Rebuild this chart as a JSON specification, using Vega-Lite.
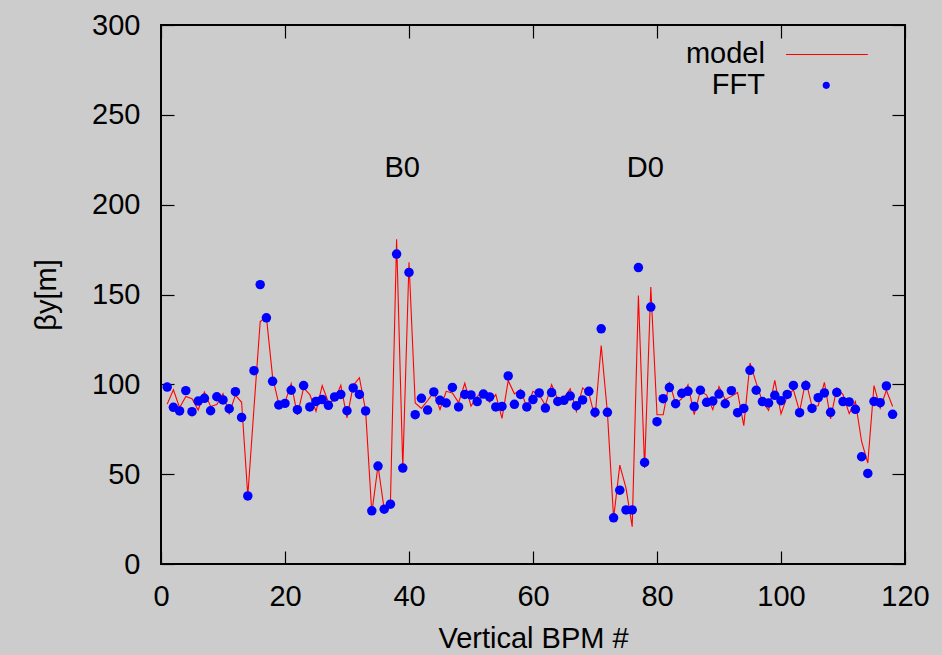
{
  "$schema": "https://vega.github.io/schema/vega-lite/v6.json",
  "width": 744,
  "height": 539,
  "autosize": {"type": "none"},
  "padding": {"left": 161, "top": 25, "right": 37, "bottom": 91},
  "background": "#cccccc",
  "config": {
    "view": {"stroke": "#000000", "strokeWidth": 2, "fill": null},
    "axis": {
      "domain": false, "grid": false,
      "labelFont": "Liberation Sans", "labelFontSize": 29, "labelColor": "#000000",
      "titleFont": "Liberation Sans", "titleFontSize": 29, "titleFontWeight": "normal", "titleColor": "#000000",
      "tickColor": "#000000", "tickSize": -13, "tickWidth": 1.2, "labelFlush": false
    },
    "text": {"font": "Liberation Sans", "fontSize": 29, "color": "#000000"}
  },
  "datasets": {
    "beta": [
      {"bpm":1,"model":89,"fft":98.5},{"bpm":2,"model":97,"fft":87.2},{"bpm":3,"model":87,"fft":85.2},{"bpm":4,"model":93.3,"fft":96.5},
      {"bpm":5,"model":92,"fft":84.8},{"bpm":6,"model":85.7,"fft":90.7},{"bpm":7,"model":95.7,"fft":92.2},{"bpm":8,"model":87.7,"fft":85.3},
      {"bpm":9,"model":88.7,"fft":93.1},{"bpm":10,"model":94.8,"fft":91.3},{"bpm":11,"model":83.7,"fft":86.4},{"bpm":12,"model":94,"fft":95.9},
      {"bpm":13,"model":90,"fft":81.6},{"bpm":14,"model":38,"fft":37.9},{"bpm":15,"model":87,"fft":107.6},{"bpm":16,"model":135,"fft":155.5},
      {"bpm":17,"model":137.5,"fft":137},{"bpm":18,"model":104,"fft":101.7},{"bpm":19,"model":89,"fft":88.5},{"bpm":20,"model":90,"fft":89.4},
      {"bpm":21,"model":100.4,"fft":96.7},{"bpm":22,"model":83,"fft":85.9},{"bpm":23,"model":98,"fft":99.3},{"bpm":24,"model":94.3,"fft":87.4},
      {"bpm":25,"model":85,"fft":90.5},{"bpm":26,"model":99.3,"fft":91.5},{"bpm":27,"model":90,"fft":88.3},{"bpm":28,"model":91,"fft":93},
      {"bpm":29,"model":99.5,"fft":94.4},{"bpm":30,"model":81.3,"fft":85.3},{"bpm":31,"model":99.3,"fft":98},{"bpm":32,"model":103.7,"fft":94.4},
      {"bpm":33,"model":85.5,"fft":85.2},{"bpm":34,"model":28.3,"fft":29.6},{"bpm":35,"model":54.7,"fft":54.5},{"bpm":36,"model":30.4,"fft":30.5},
      {"bpm":37,"model":33.3,"fft":33.3},{"bpm":38,"model":180.7,"fft":172.5},{"bpm":39,"model":53.4,"fft":53.4},{"bpm":40,"model":168,"fft":162.3},
      {"bpm":41,"model":89.6,"fft":83.1},{"bpm":42,"model":86.6,"fft":92.2},{"bpm":43,"model":91,"fft":85.7},{"bpm":44,"model":95.7,"fft":95.8},
      {"bpm":45,"model":86,"fft":91.1},{"bpm":46,"model":96.1,"fft":89.6},{"bpm":47,"model":95.2,"fft":98.3},{"bpm":48,"model":89.8,"fft":87.4},
      {"bpm":49,"model":100.6,"fft":94.4},{"bpm":50,"model":87.9,"fft":94.1},{"bpm":51,"model":93.2,"fft":90.4},{"bpm":52,"model":96.8,"fft":94.6},
      {"bpm":53,"model":90,"fft":93},{"bpm":54,"model":94.3,"fft":87.4},{"bpm":55,"model":81,"fft":87.7},{"bpm":56,"model":102.1,"fft":104.7},
      {"bpm":57,"model":94.7,"fft":88.9},{"bpm":58,"model":97.2,"fft":94.4},{"bpm":59,"model":87,"fft":87.4},{"bpm":60,"model":96.1,"fft":91.5},
      {"bpm":61,"model":94.1,"fft":95.2},{"bpm":62,"model":88.4,"fft":86.8},{"bpm":63,"model":99.8,"fft":95.4},{"bpm":64,"model":91.7,"fft":90.5},
      {"bpm":65,"model":92.5,"fft":91.1},{"bpm":66,"model":97.5,"fft":93.5},{"bpm":67,"model":85,"fft":88.1},{"bpm":68,"model":98,"fft":91.3},
      {"bpm":69,"model":95.2,"fft":96.1},{"bpm":70,"model":81.3,"fft":84.4},{"bpm":71,"model":121.6,"fft":130.9},{"bpm":72,"model":84.4,"fft":84.4},
      {"bpm":73,"model":25.5,"fft":25.7},{"bpm":74,"model":55,"fft":41.1},{"bpm":75,"model":42.2,"fft":30.1},{"bpm":76,"model":20.8,"fft":30.1},
      {"bpm":77,"model":149.5,"fft":165},{"bpm":78,"model":53.4,"fft":56.5},{"bpm":79,"model":154.1,"fft":143},{"bpm":80,"model":83.1,"fft":79.2},
      {"bpm":81,"model":83.1,"fft":92},{"bpm":82,"model":101.4,"fft":98.2},{"bpm":83,"model":89.2,"fft":89.2},{"bpm":84,"model":92,"fft":95},
      {"bpm":85,"model":99.8,"fft":96.1},{"bpm":86,"model":83.1,"fft":87.6},{"bpm":87,"model":96.4,"fft":96.7},{"bpm":88,"model":94,"fft":90},
      {"bpm":89,"model":85.9,"fft":90.7},{"bpm":90,"model":98.7,"fft":94.6},{"bpm":91,"model":91.5,"fft":89.2},{"bpm":92,"model":93.3,"fft":96.5},
      {"bpm":93,"model":95.5,"fft":84.2},{"bpm":94,"model":77,"fft":86.6},{"bpm":95,"model":111.9,"fft":107.8},{"bpm":96,"model":100.8,"fft":96.7},
      {"bpm":97,"model":90.5,"fft":90.4},{"bpm":98,"model":85.5,"fft":89.6},{"bpm":99,"model":102.2,"fft":93.9},{"bpm":100,"model":83.5,"fft":90.9},
      {"bpm":101,"model":93.3,"fft":94.4},{"bpm":102,"model":97,"fft":99.4},{"bpm":103,"model":85,"fft":84.2},{"bpm":104,"model":102.2,"fft":99.3},
      {"bpm":105,"model":87.7,"fft":86.6},{"bpm":106,"model":88.1,"fft":92.6},{"bpm":107,"model":101.1,"fft":95.2},{"bpm":108,"model":80.7,"fft":84.4},
      {"bpm":109,"model":98,"fft":95.5},{"bpm":110,"model":94.3,"fft":90.4},{"bpm":111,"model":83.7,"fft":90.2},{"bpm":112,"model":90.5,"fft":86.1},
      {"bpm":113,"model":68.2,"fft":59.7},{"bpm":114,"model":56.2,"fft":50.4},{"bpm":115,"model":99.3,"fft":90.5},{"bpm":116,"model":86.8,"fft":89.8},
      {"bpm":117,"model":96.7,"fft":99.1},{"bpm":118,"model":87.7,"fft":83.3}
    ],
    "labels": [
      {"label": "B0", "bpm": 38.9, "beta": 220.5},
      {"label": "D0", "bpm": 78.1, "beta": 220.5}
    ],
    "legend": [
      {"series": "model", "bpm": 97.4, "beta": 283.6, "x1": 100.8, "x2": 114},
      {"series": "FFT", "bpm": 97.4, "beta": 266.4, "px": 107.3}
    ]
  },
  "resolve": {"axis": {"x": "independent", "y": "independent"}},
  "layer": [
    {
      "data": {"name": "beta"},
      "mark": {"type": "line", "color": "#ff0000", "strokeWidth": 1.1},
      "encoding": {
        "x": {"field": "bpm", "type": "quantitative",
              "scale": {"domain": [0, 120], "nice": false, "zero": false},
              "axis": {"orient": "bottom", "values": [0, 20, 40, 60, 80, 100, 120], "title": "Vertical BPM #", "labelPadding": 31, "titlePadding": 13}},
        "y": {"field": "model", "type": "quantitative",
              "scale": {"domain": [0, 300], "nice": false, "zero": false},
              "axis": {"orient": "left", "values": [0, 50, 100, 150, 200, 250, 300], "title": "βy[m]", "labelPadding": 34, "titlePadding": 30}}
      }
    },
    {
      "data": {"name": "beta"},
      "mark": {"type": "point", "filled": true, "color": "#0000ff", "opacity": 1, "size": 90, "strokeWidth": 0},
      "encoding": {
        "x": {"field": "bpm", "type": "quantitative",
              "axis": {"orient": "top", "values": [0, 20, 40, 60, 80, 100, 120], "labels": false, "title": null}},
        "y": {"field": "fft", "type": "quantitative",
              "axis": {"orient": "right", "values": [0, 50, 100, 150, 200, 250, 300], "labels": false, "title": null}}
      }
    },
    {
      "data": {"name": "labels"},
      "mark": {"type": "text", "align": "center", "baseline": "middle"},
      "encoding": {
        "x": {"field": "bpm", "type": "quantitative", "axis": null},
        "y": {"field": "beta", "type": "quantitative", "axis": null},
        "text": {"field": "label"}
      }
    },
    {
      "data": {"name": "legend"},
      "mark": {"type": "text", "align": "right", "baseline": "middle"},
      "encoding": {
        "x": {"field": "bpm", "type": "quantitative", "axis": null},
        "y": {"field": "beta", "type": "quantitative", "axis": null},
        "text": {"field": "series"}
      }
    },
    {
      "data": {"name": "legend"},
      "transform": [{"filter": "datum.series === 'model'"}],
      "mark": {"type": "rule", "color": "#ff0000", "strokeWidth": 1.1},
      "encoding": {
        "x": {"field": "x1", "type": "quantitative", "axis": null},
        "x2": {"field": "x2"},
        "y": {"field": "beta", "type": "quantitative", "axis": null}
      }
    },
    {
      "data": {"name": "legend"},
      "transform": [{"filter": "datum.series === 'FFT'"}],
      "mark": {"type": "point", "filled": true, "color": "#0000ff", "opacity": 1, "size": 50, "strokeWidth": 0},
      "encoding": {
        "x": {"field": "px", "type": "quantitative", "axis": null},
        "y": {"field": "beta", "type": "quantitative", "axis": null}
      }
    }
  ]
}
